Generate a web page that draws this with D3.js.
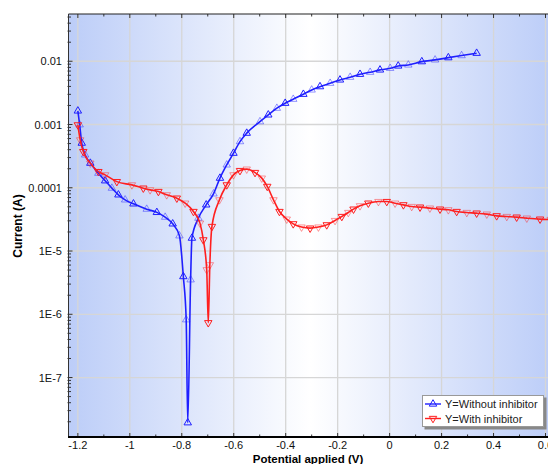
<!DOCTYPE html>
<html>
<head>
<meta charset="utf-8">
<script src="https://cdn.jsdelivr.net/npm/d3@7"></script>
<style>
  body { margin: 0; background: #fff; }
  svg { display: block; font-family: Arial, "Liberation Sans", sans-serif; }
</style>
</head>
<body>
<div class="chart"></div>
<script>
// Without inhibitor (blue, up triangles)
const potentialWithout = [-1.200, -1.193, -1.185, -1.172, -1.152, -1.121, -1.095, -1.069, -1.044, -1.018,
  -0.986, -0.935, -0.896, -0.864, -0.835, -0.809, -0.794, -0.783, -0.777, -0.766,
  -0.761, -0.736, -0.706, -0.678, -0.653, -0.627, -0.601, -0.576, -0.550, -0.499,
  -0.467, -0.434, -0.402, -0.371, -0.332, -0.300, -0.268, -0.229, -0.191, -0.152,
  -0.114, -0.075, -0.037, 0.002, 0.033, 0.072, 0.124, 0.175, 0.226, 0.277, 0.335];
const currentWithout = [1.64e-3, 9.9e-4, 5.08e-4, 3.31e-4, 2.45e-4, 1.70e-4, 1.29e-4, 9.86e-5, 7.73e-5, 6.44e-5,
  5.57e-5, 4.59e-5, 4.08e-5, 3.43e-5, 2.69e-5, 1.74e-5, 3.95e-6, 8.2e-7, 1.93e-8, 3.51e-6,
  1.60e-5, 3.31e-5, 5.37e-5, 8.02e-5, 1.42e-4, 2.30e-4, 3.52e-4, 5.37e-4, 7.30e-4, 1.11e-3,
  1.42e-3, 1.81e-3, 2.17e-3, 2.51e-3, 3.01e-3, 3.52e-3, 3.97e-3, 4.49e-3, 5.07e-3, 5.59e-3,
  6.23e-3, 6.70e-3, 7.30e-3, 7.74e-3, 8.43e-3, 8.74e-3, 9.86e-3, 1.05e-2, 1.14e-2, 1.23e-2, 1.34e-2];

// With inhibitor (red, down triangles)
const potentialWith = [-1.200, -1.191, -1.179, -1.152, -1.121, -1.095, -1.050, -0.992, -0.948, -0.922,
  -0.890, -0.858, -0.819, -0.787, -0.755, -0.730, -0.717, -0.704, -0.698, -0.692,
  -0.684, -0.655, -0.627, -0.601, -0.576, -0.550, -0.518, -0.492, -0.471, -0.447,
  -0.424, -0.396, -0.371, -0.339, -0.306, -0.274, -0.242, -0.210, -0.184, -0.159,
  -0.139, -0.114, -0.082, -0.043, -0.011, 0.021, 0.053, 0.085, 0.117, 0.155,
  0.194, 0.226, 0.258, 0.297, 0.335, 0.374, 0.412, 0.451, 0.489, 0.528, 0.579, 0.62];
const currentWith = [9.86e-4, 5.71e-4, 3.73e-4, 2.45e-4, 1.80e-4, 1.60e-4, 1.25e-4, 1.11e-4, 9.86e-5, 9.27e-5,
  8.72e-5, 7.73e-5, 6.85e-5, 5.71e-5, 4.21e-5, 2.76e-5, 1.50e-5, 5.05e-6, 7.35e-7, 6.05e-6,
  2.44e-5, 6.44e-5, 1.11e-4, 1.60e-4, 1.87e-4, 1.97e-4, 1.74e-4, 1.42e-4, 1.05e-4, 6.44e-5,
  4.21e-5, 3.19e-5, 2.69e-5, 2.39e-5, 2.30e-5, 2.39e-5, 2.59e-5, 3.03e-5, 3.51e-5, 4.06e-5,
  4.59e-5, 5.18e-5, 5.71e-5, 6.05e-5, 6.05e-5, 5.71e-5, 5.37e-5, 5.05e-5, 4.94e-5, 4.77e-5,
  4.59e-5, 4.48e-5, 4.21e-5, 4.06e-5, 3.97e-5, 3.83e-5, 3.60e-5, 3.51e-5, 3.43e-5, 3.31e-5, 3.19e-5, 3.15e-5];

const xTickValues = [-1.2, -1, -0.8, -0.6, -0.4, -0.2, 0, 0.2, 0.4, 0.6];
const xTickLabels = ["-1.2", "-1", "-0.8", "-0.6", "-0.4", "-0.2", "0", "0.2", "0.4", "0.6"];
const yTickValues = [1e-7, 1e-6, 1e-5, 1e-4, 1e-3, 1e-2];
const yTickLabels = ["1E-7", "1E-6", "1E-5", "0.0001", "0.001", "0.01"];
const seriesNames = ["Y=Without inhibitor", "Y=With inhibitor"];
const seriesColors = ["#1f1fff", "#ff1f1f"];

const w = 548, h = 464;
const margin = { left: 68.5, top: 14, right: 552, bottom: 437 };

const xScale = d3.scaleLinear()
  .domain([-1.236, 0.625])
  .range([margin.left, margin.right]);

const yScale = d3.scaleLog()
  .domain([Math.pow(10, -7.94), Math.pow(10, -1.253)])
  .range([margin.bottom, margin.top]);

const svg = d3.select(".chart").append("svg")
  .attr("width", w)
  .attr("height", h);

const defs = svg.append("defs");
const grad = defs.append("linearGradient")
  .attr("id", "bg")
  .attr("x1", "0%").attr("x2", "100%").attr("y1", "0%").attr("y2", "0%");
grad.append("stop").attr("offset", "0%").attr("stop-color", "#bccdf8");
grad.append("stop").attr("offset", "50%").attr("stop-color", "#ffffff");
grad.append("stop").attr("offset", "100%").attr("stop-color", "#bccdf8");

defs.append("clipPath").attr("id", "plotClip")
  .append("rect")
  .attr("x", margin.left).attr("y", margin.top)
  .attr("width", margin.right - margin.left)
  .attr("height", margin.bottom - margin.top);

svg.append("rect")
  .attr("x", margin.left).attr("y", margin.top)
  .attr("width", margin.right - margin.left)
  .attr("height", margin.bottom - margin.top)
  .attr("fill", "url(#bg)");

// grid
svg.append("g")
  .selectAll("line")
  .data(xTickValues)
  .enter().append("line")
  .attr("x1", (d) => xScale(d)).attr("x2", (d) => xScale(d))
  .attr("y1", margin.top).attr("y2", margin.bottom)
  .attr("stroke", "#d6d6d6").attr("stroke-width", 1.3);

svg.append("g")
  .selectAll("line")
  .data(yTickValues)
  .enter().append("line")
  .attr("x1", margin.left).attr("x2", margin.right)
  .attr("y1", (d) => yScale(d)).attr("y2", (d) => yScale(d))
  .attr("stroke", "#d6d6d6").attr("stroke-width", 1.3);

// minor ticks
const xMinor = d3.range(-12, 7).map((i) => i / 10);
const yMinor = [];
for (let e = -8; e <= -2; e++) {
  for (let m = 1; m <= 9; m++) {
    const v = m * Math.pow(10, e);
    if (v >= yScale.domain()[0] && v <= yScale.domain()[1]) yMinor.push(v);
  }
}

const ticks = svg.append("g").attr("stroke", "#333");
ticks.selectAll(".xb")
  .data(xMinor)
  .enter().append("line")
  .attr("x1", (d) => xScale(d)).attr("x2", (d) => xScale(d))
  .attr("y1", margin.bottom).attr("y2", (d, i) => margin.bottom - (i % 2 === 0 ? 4 : 2.5));
ticks.selectAll(".xt")
  .data(xMinor)
  .enter().append("line")
  .attr("x1", (d) => xScale(d)).attr("x2", (d) => xScale(d))
  .attr("y1", margin.top).attr("y2", (d, i) => margin.top + (i % 2 === 0 ? 4 : 2.5));
ticks.selectAll(".yl")
  .data(yMinor)
  .enter().append("line")
  .attr("x1", margin.left - 1)
  .attr("x2", (d) => margin.left + (yTickValues.some((t) => Math.abs(t - d) / t < 1e-6) ? 4 : 2.5))
  .attr("y1", (d) => yScale(d)).attr("y2", (d) => yScale(d));

// axis lines
svg.append("line")
  .attr("x1", margin.left).attr("x2", w)
  .attr("y1", margin.top).attr("y2", margin.top)
  .attr("stroke", "#222").attr("stroke-width", 1.2);
svg.append("line")
  .attr("x1", margin.left).attr("x2", margin.left)
  .attr("y1", margin.top).attr("y2", margin.bottom)
  .attr("stroke", "#333").attr("stroke-width", 1);
svg.append("line")
  .attr("x1", margin.left - 0.5).attr("x2", w)
  .attr("y1", margin.bottom).attr("y2", margin.bottom)
  .attr("stroke", "#000").attr("stroke-width", 2);

// tick labels
svg.append("g")
  .selectAll("text")
  .data(xTickValues)
  .enter().append("text")
  .attr("x", (d) => xScale(d))
  .attr("y", 449)
  .attr("text-anchor", "middle")
  .attr("font-size", "11px")
  .attr("fill", "#111")
  .text((d, i) => xTickLabels[i]);

svg.append("g")
  .selectAll("text")
  .data(yTickValues)
  .enter().append("text")
  .attr("x", 62)
  .attr("y", (d) => yScale(d) + 4)
  .attr("text-anchor", "end")
  .attr("font-size", "11px")
  .attr("fill", "#111")
  .text((d, i) => yTickLabels[i]);

// axis titles
svg.append("text")
  .attr("x", 308).attr("y", 462.5)
  .attr("text-anchor", "middle")
  .attr("font-size", "11.5px")
  .attr("font-weight", "bold")
  .text("Potential applied (V)");

svg.append("text")
  .attr("transform", "translate(22,226) rotate(-90)")
  .attr("text-anchor", "middle")
  .attr("font-size", "12px")
  .attr("font-weight", "bold")
  .text("Current (A)");

// series
const series = [
  { x: potentialWithout, y: currentWithout, up: true },
  { x: potentialWith, y: currentWith, up: false }
];

const line = d3.line()
  .x((d) => xScale(d[0]))
  .y((d) => yScale(d[1]))
  .curve(d3.curveMonotoneX);

const upTri = d3.symbol().type(d3.symbolTriangle).size(24);

const plot = svg.append("g").attr("clip-path", "url(#plotClip)");

series.forEach((s, k) => {
  const pts = s.x.map((p, i) => [p, s.y[i]]);
  plot.append("path")
    .datum(pts)
    .attr("d", line)
    .attr("fill", "none")
    .attr("stroke", seriesColors[k])
    .attr("stroke-width", 1.6);

  plot.append("g")
    .selectAll("path")
    .data(pts)
    .enter().append("path")
    .attr("d", upTri)
    .attr("transform", (d) =>
      `translate(${xScale(d[0])},${yScale(d[1])})` + (s.up ? "" : " rotate(180)"))
    .attr("fill", "none")
    .attr("stroke", seriesColors[k])
    .attr("stroke-width", 1)
    .attr("opacity", (d, i) => (i % 2 === 0 ? 1 : 0.45));
});

// legend
const lg = svg.append("g");
lg.append("rect")
  .attr("x", 424.5).attr("y", 397.5)
  .attr("width", 122).attr("height", 32)
  .attr("fill", "#888");
lg.append("rect")
  .attr("x", 422.5).attr("y", 395.5)
  .attr("width", 121).attr("height", 31)
  .attr("fill", "#fff")
  .attr("stroke", "#999")
  .attr("stroke-width", 1);

seriesNames.forEach((name, k) => {
  const cy = 404 + k * 14.5;
  lg.append("line")
    .attr("x1", 425).attr("x2", 441)
    .attr("y1", cy).attr("y2", cy)
    .attr("stroke", seriesColors[k]).attr("stroke-width", 1.4);
  lg.append("path")
    .attr("d", upTri)
    .attr("transform", `translate(433,${cy})` + (k === 0 ? "" : " rotate(180)"))
    .attr("fill", "none")
    .attr("stroke", seriesColors[k]);
  lg.append("text")
    .attr("x", 445).attr("y", cy + 4)
    .attr("font-size", "11px")
    .attr("fill", "#222")
    .text(name);
});
</script>
</body>
</html>
